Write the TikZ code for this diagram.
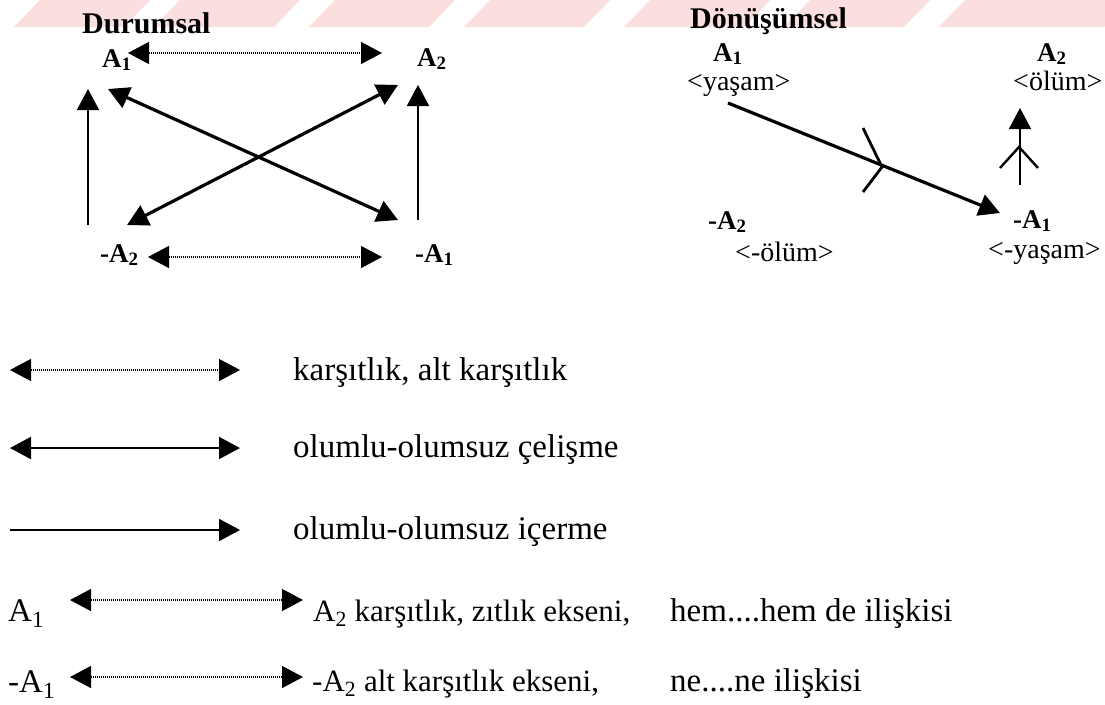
\documentclass[tikz,border=0pt]{standalone}
\usepackage{fontspec}
\setmainfont{Liberation Serif}
\usetikzlibrary{arrows.meta}
\definecolor{wmark}{RGB}{251,222,222}
\tikzset{
  lbl/.style={inner sep=0pt, anchor=base west, font=\fontsize{27}{30}\selectfont\bfseries},
  ttl/.style={inner sep=0pt, anchor=base west, font=\fontsize{30}{34}\selectfont\bfseries},
  sem/.style={inner sep=0pt, anchor=base west, font=\fontsize{28}{32}\selectfont},
  leg/.style={inner sep=0pt, anchor=base west, font=\fontsize{33}{38}\selectfont},
  legs/.style={leg, font=\fontsize{31}{36}\selectfont},
  head/.tip={Triangle[length=21pt,width=22pt]},
  oppo/.style={head-head, line width=1.3pt, dash pattern=on 1.2pt off 0.8pt},
  contra/.style={head-head, line width=3.2pt},
  implic/.style={-head, line width=1.8pt}
}
\begin{document}
\begin{tikzpicture}[x=1pt,y=-1pt]
\useasboundingbox (0,0) rectangle (1105,704);
\fill[white] (0,0) rectangle (1105,704);
\foreach \xa/\xb in {40/150, 180/300, 335/455, 490/610, 650/770, 810/930, 965/1130}
  \fill[wmark] (\xa,0) -- (\xb,0) -- (\xb-26,27) -- (\xa-26,27) -- cycle;
% Durumsal
\node[ttl] (dtitle) at (82,33) {Durumsal};
\node[lbl] (a1) at (102,67) {A\textsubscript{1}};
\node[lbl] (a2) at (417,66) {A\textsubscript{2}};
\node[lbl] (na2) at (100,262) {-A\textsubscript{2}};
\node[lbl] (na1) at (415,262) {-A\textsubscript{1}};
\coordinate (a1r) at (128,53);
\coordinate (a2l) at (382,53);
\coordinate (na2r) at (148,257);
\coordinate (na1l) at (382,257);
\coordinate (a1b) at (88,89);
\coordinate (a1bl) at (88,225);
\coordinate (a1d) at (108,89);
\coordinate (a2b) at (418,85);
\coordinate (a2br) at (418,220);
\coordinate (a2d) at (398,85);
\coordinate (na2d) at (127,225);
\coordinate (na1d) at (398,220);
\draw[oppo] (a1r) -- (a2l);
\draw[oppo] (na2r) -- (na1l);
\draw[implic] (a1bl) -- (a1b);
\draw[implic] (a2br) -- (a2b);
\draw[contra] (a1d) -- (na1d);
\draw[contra] (a2d) -- (na2d);
% Donusumsel
\node[ttl] (ttitle) at (690,28) {Dönüşümsel};
\node[lbl] (ta1) at (713,61) {A\textsubscript{1}};
\node[sem] (yasam) at (687,90) {<yaşam>};
\node[lbl] (ta2) at (1037,61) {A\textsubscript{2}};
\node[sem] (olum) at (1013,90) {<ölüm>};
\node[lbl] (tna2) at (708,229) {-A\textsubscript{2}};
\node[sem] (nolum) at (735,261) {<-ölüm>};
\node[lbl] (tna1) at (1013,228) {-A\textsubscript{1}};
\node[sem] (nyasam) at (988,258) {<-yaşam>};
\coordinate (ys) at (728,103);
\coordinate (nye) at (1000,213);
\coordinate (nys) at (1020,185);
\coordinate (oe) at (1020,108);
\draw[-head, line width=3.2pt] (ys) -- (nye);
\draw[line width=2.8pt] (863,128) -- (882,167) -- (863,192);
\draw[implic] (nys) -- (oe);
\draw[line width=2.4pt] (1000,168) -- (1019,147) -- (1038,168);
% legend
\coordinate (l1a) at (10,370); \coordinate (l1b) at (240,370);
\coordinate (l2a) at (10,448); \coordinate (l2b) at (240,448);
\coordinate (l3a) at (10,530); \coordinate (l3b) at (240,530);
\draw[oppo] (l1a) -- (l1b);
\draw[head-head, line width=2pt] (l2a) -- (l2b);
\draw[implic] (l3a) -- (l3b);
\node[leg] (t1) at (293,380) {karşıtlık, alt karşıtlık};
\node[leg] (t2) at (293,457) {olumlu-olumsuz çelişme};
\node[leg] (t3) at (293,539) {olumlu-olumsuz içerme};
\node[leg] (la1) at (8,621) {A\textsubscript{1}};
\node[legs] (la2) at (313,621) {A\textsubscript{2} karşıtlık, zıtlık ekseni,};
\node[leg] (lhem) at (670,621) {hem....hem de ilişkisi};
\node[leg] (lna1) at (8,692) {-A\textsubscript{1}};
\node[legs] (lna2) at (312,691) {-A\textsubscript{2} alt karşıtlık ekseni,};
\node[leg] (lne) at (670,691) {ne....ne ilişkisi};
\coordinate (l4a) at (70,600); \coordinate (l4b) at (303,600);
\coordinate (l5a) at (70,677); \coordinate (l5b) at (303,677);
\draw[oppo] (l4a) -- (l4b);
\draw[oppo] (l5a) -- (l5b);
\end{tikzpicture}
\end{document}
